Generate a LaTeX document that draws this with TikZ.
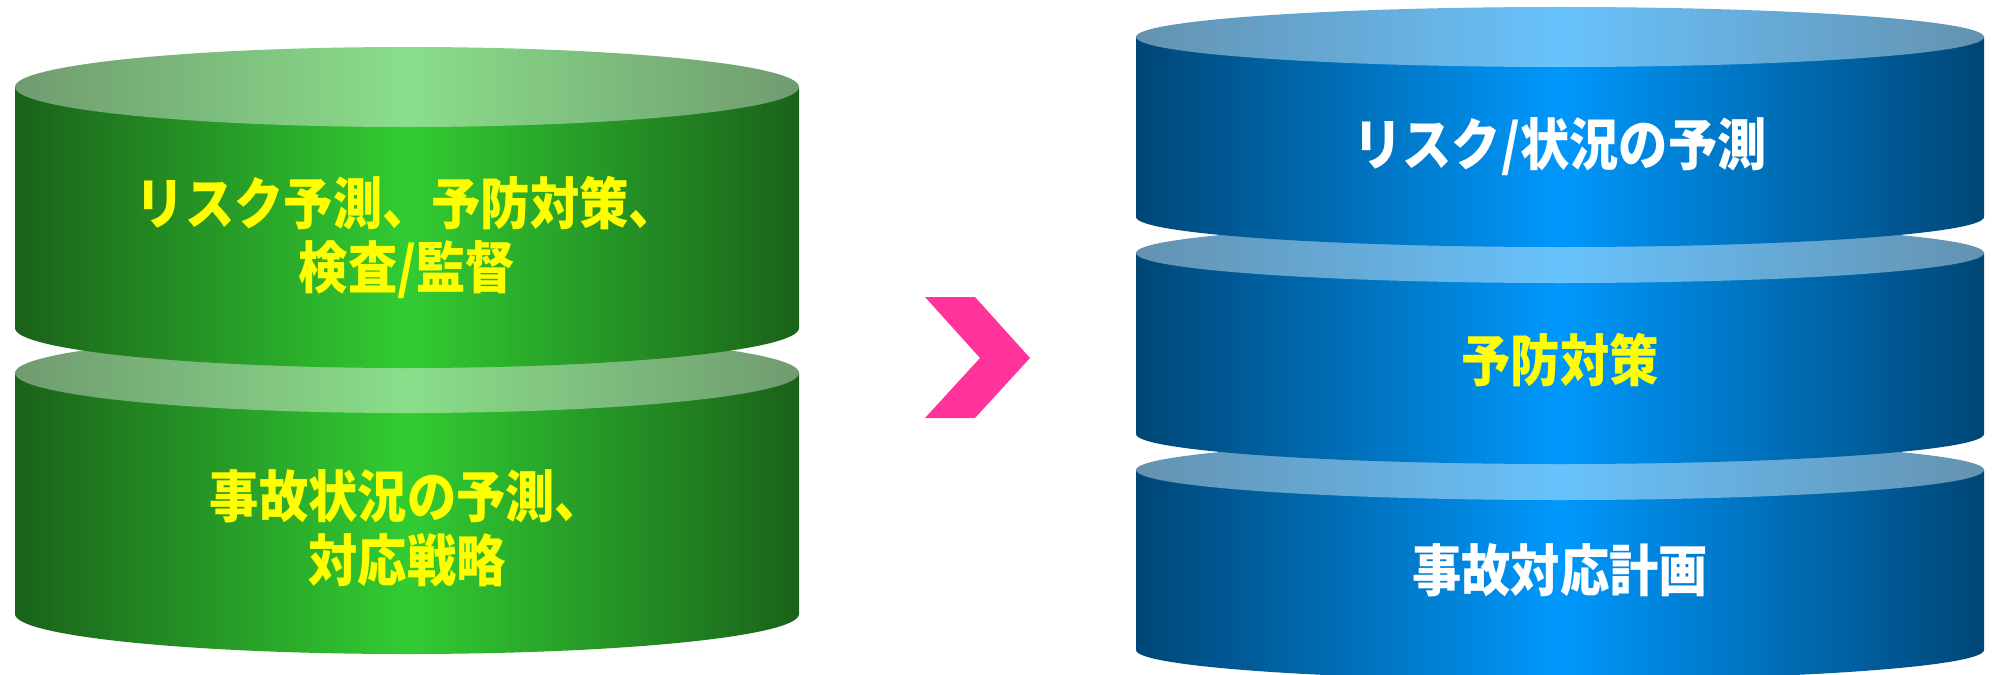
\documentclass[tikz,border=0pt]{standalone}
\usepackage{fontspec}
\newfontfamily\jp[FakeStretch=0.88]{Noto Sans CJK JP}
\definecolor{gdark}{RGB}{26,98,26}
\definecolor{gbright}{RGB}{50,204,50}
\definecolor{gtopdark}{RGB}{112,155,112}
\definecolor{gtopbright}{RGB}{138,222,138}
\definecolor{bdark}{RGB}{0,70,118}
\definecolor{bbright}{RGB}{0,152,252}
\definecolor{btopdark}{RGB}{100,146,176}
\definecolor{btopbright}{RGB}{104,194,252}
\definecolor{chev}{RGB}{255,51,153}
\definecolor{txtyellow}{RGB}{255,255,0}
\pgfdeclarehorizontalshading{gbody}{100bp}{color(0bp)=(gdark); color(25bp)=(gdark); color(50bp)=(gbright); color(75bp)=(gdark); color(100bp)=(gdark)}
\pgfdeclarehorizontalshading{gtop}{100bp}{color(0bp)=(gtopdark); color(25bp)=(gtopdark); color(50bp)=(gtopbright); color(75bp)=(gtopdark); color(100bp)=(gtopdark)}
\pgfdeclarehorizontalshading{bbody}{100bp}{color(0bp)=(bdark); color(25bp)=(bdark); color(50bp)=(bbright); color(75bp)=(bdark); color(100bp)=(bdark)}
\pgfdeclarehorizontalshading{btop}{100bp}{color(0bp)=(btopdark); color(25bp)=(btopdark); color(50bp)=(btopbright); color(75bp)=(btopdark); color(100bp)=(btopdark)}
% #1 cx, #2 cy (top ellipse centre), #3 rx, #4 ry, #5 height, #6 body shading, #7 top shading
\newcommand\drawcyl[7]{%
  \shade[shading=#6] (#1-#3,#2) -- (#1-#3,#2+#5)
     arc[start angle=180,end angle=0,x radius=#3,y radius=#4]
     -- (#1+#3,#2) -- cycle;
  \shade[shading=#7] (#1,#2) ellipse[x radius=#3,y radius=#4];
}
\tikzset{
  cyltext/.style={font=\jp\bfseries\fontsize{28pt}{32pt}\selectfont, align=center, inner sep=0pt},
}
\begin{document}
\begin{tikzpicture}[x=0.5pt,y=-0.5pt]
\useasboundingbox (0,0) rectangle (1995,674);
\fill[white] (0,0) rectangle (1995,674);
% green stack (lower first)
\drawcyl{407}{373}{392}{40}{241}{gbody}{gtop}
\drawcyl{407}{87}{392}{40}{241}{gbody}{gtop}
\node[cyltext, text=txtyellow] (g1) at (407,237) {リスク予測、予防対策、\\検査/監督};
\node[cyltext, text=txtyellow] (g2) at (407,528) {事故状況の予測、\\対応戦略};
% chevron
\fill[chev] (925,297) -- (975,297) -- (1030,358) -- (975,418) -- (925,418) -- (980,358) -- cycle;
% blue stack (lowest first)
\drawcyl{1560}{470}{424}{30}{180}{bbody}{btop}
\drawcyl{1560}{253}{424}{30}{181}{bbody}{btop}
\drawcyl{1560}{37}{424}{30}{180}{bbody}{btop}
\node[cyltext, text=white] (b1) at (1560,147) {リスク/状況の予測};
\node[cyltext, text=txtyellow] (b2) at (1560,360) {予防対策};
\node[cyltext, text=white] (b3) at (1560,570) {事故対応計画};
\end{tikzpicture}
\end{document}
